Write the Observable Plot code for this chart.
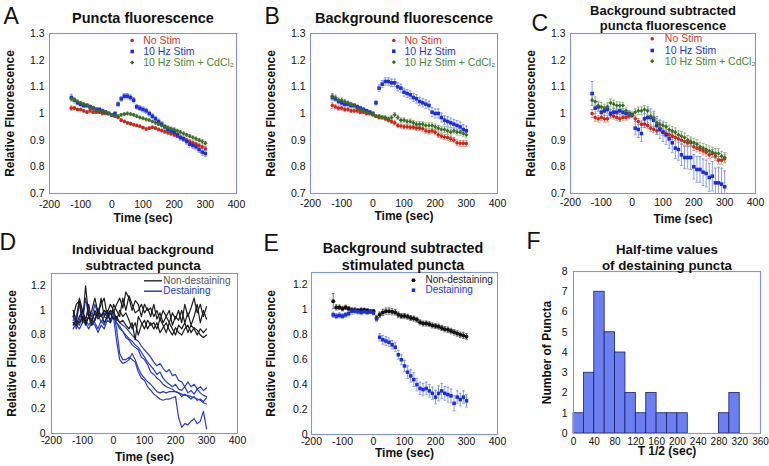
<!DOCTYPE html>
<html><head><meta charset="utf-8">
<script src="https://cdn.jsdelivr.net/npm/d3@7"></script>
<script src="https://cdn.jsdelivr.net/npm/@observablehq/plot@0.6"></script>
<style>
html,body{margin:0;padding:0;background:#fff;}
#wrap{position:relative;width:769px;height:466px;overflow:hidden;background:#fff;}
.panel{position:absolute;}
.panel svg{display:block;}
</style></head><body><div id="wrap"></div>
<script>
// ---------- shared ticks / times ----------
const t = [-130,-120,-110,-100,-90,-80,-70,-60,-50,-40,-30,-20,-10,0,10,20,30,40,50,60,70,80,90,100,110,120,130,140,150,160,170,180,190,200,210,220,230,240,250,260,270,280,290,300];
const timeTicks = [-200,-100,0,100,200,300,400];
const fluorTicksABC = [0.7,0.8,0.9,1,1.1,1.2,1.3];
const fluorTicksDE = [0,0.2,0.4,0.6,0.8,1,1.2];
const seriesNames = ["No Stim", "10 Hz Stim", "10 Hz Stim + CdCl\u2082"];
const groupNames = ["Non-destaining", "Destaining"];

// ---------- A: puncta fluorescence ----------
const aNoStim = [1.02,1.02,1.015,1.015,1.01,1.005,1.01,1.005,1.005,1.005,1.0,1.0,1.0,0.995, 0.99,0.985,0.975,0.97,0.965,0.962,0.958,0.955,0.952,0.947, 0.942,0.945,0.948,0.945,0.94,0.936,0.932,0.928,0.924,0.92, 0.915,0.91,0.905,0.9,0.895,0.89,0.885,0.88,0.875,0.868];
const aNoStimErr = [0.008,0.006,0.005,0.005,0.005,0.005,0.005,0.005,0.005,0.005,0.005,0.004,0.004,0.004, 0.004,0.005,0.005,0.005,0.005,0.005,0.005,0.005,0.005,0.005, 0.005,0.005,0.005,0.005,0.006,0.006,0.006,0.006,0.006,0.006, 0.006,0.006,0.006,0.007,0.007,0.007,0.007,0.007,0.007,0.008];
const aStim = [1.06,1.05,1.04,1.035,1.03,1.03,1.025,1.02,1.015,1.015,1.01,1.005,1.0,0.995, 1.0,1.035,1.055,1.065,1.065,1.06,1.05,1.025,1.02,1.015, 1.01,1.0,0.99,0.98,0.97,0.96,0.95,0.94,0.935,0.93, 0.92,0.91,0.905,0.895,0.885,0.88,0.875,0.865,0.855,0.85];
const aStimErr = [0.012,0.01,0.008,0.008,0.008,0.007,0.007,0.007,0.007,0.006,0.006,0.006,0.005,0.005, 0.006,0.008,0.009,0.01,0.01,0.01,0.01,0.009,0.009,0.009, 0.009,0.009,0.009,0.009,0.009,0.009,0.009,0.009,0.01,0.01, 0.01,0.01,0.01,0.01,0.011,0.011,0.011,0.011,0.012,0.012];
const aCd = [1.055,1.05,1.045,1.04,1.035,1.03,1.025,1.02,1.015,1.01,1.01,1.005,1.0,0.995, 0.99,0.99,0.995,0.998,1.0,0.998,0.995,0.99,0.985,0.982, 0.978,0.975,0.97,0.965,0.96,0.955,0.95,0.947,0.943,0.94, 0.935,0.93,0.925,0.92,0.915,0.91,0.905,0.9,0.895,0.888];
const aCdErr = [0.008,0.006,0.006,0.005,0.005,0.005,0.005,0.005,0.005,0.005,0.004,0.004,0.004,0.004, 0.004,0.004,0.005,0.005,0.005,0.005,0.005,0.005,0.005,0.005, 0.005,0.005,0.005,0.005,0.005,0.005,0.005,0.006,0.006,0.006, 0.006,0.006,0.006,0.006,0.006,0.006,0.007,0.007,0.007,0.007];

// ---------- B: background fluorescence ----------
const bNoStim = [1.03,1.025,1.02,1.02,1.015,1.015,1.01,1.01,1.01,1.005,1.005,1.0,1.0,0.995, 0.99,0.985,0.985,0.98,0.975,0.97,0.965,0.955,0.953,0.95, 0.95,0.948,0.948,0.945,0.945,0.943,0.935,0.932,0.935,0.93, 0.92,0.915,0.912,0.91,0.905,0.9,0.89,0.888,0.888,0.887];
const bNoStimErr = [0.01,0.008,0.008,0.008,0.008,0.007,0.007,0.007,0.007,0.006,0.006,0.005,0.005,0.005, 0.005,0.006,0.006,0.007,0.007,0.007,0.008,0.008,0.008,0.008, 0.008,0.008,0.008,0.009,0.009,0.009,0.009,0.009,0.009,0.01, 0.01,0.01,0.01,0.01,0.01,0.01,0.011,0.011,0.011,0.011];
const bStim = [1.06,1.055,1.045,1.04,1.035,1.035,1.03,1.03,1.025,1.02,1.015,1.01,1.005,1.0, 1.04,1.095,1.11,1.12,1.12,1.115,1.115,1.1,1.095,1.08, 1.075,1.07,1.06,1.055,1.045,1.04,1.035,1.03,1.005,1.0, 1.0,0.985,0.975,0.97,0.965,0.96,0.955,0.95,0.94,0.935];
const bStimErr = [0.01,0.009,0.009,0.008,0.008,0.008,0.008,0.007,0.007,0.007,0.006,0.006,0.005,0.005, 0.008,0.012,0.013,0.014,0.014,0.014,0.014,0.015,0.015,0.015, 0.015,0.015,0.015,0.016,0.016,0.016,0.016,0.016,0.017,0.017, 0.017,0.017,0.017,0.018,0.018,0.018,0.018,0.018,0.018,0.018];
const bCd = [1.065,1.06,1.05,1.05,1.045,1.04,1.035,1.03,1.02,1.015,1.01,1.005,1.0,1.0, 0.99,0.99,0.985,0.985,0.98,0.985,0.995,0.985,0.975,0.975, 0.97,0.97,0.965,0.96,0.96,0.96,0.955,0.955,0.955,0.95, 0.945,0.94,0.94,0.935,0.93,0.935,0.93,0.93,0.925,0.92];
const bCdErr = [0.01,0.009,0.008,0.008,0.008,0.007,0.007,0.007,0.006,0.006,0.006,0.005,0.005,0.005, 0.005,0.006,0.007,0.007,0.007,0.008,0.008,0.008,0.008,0.008, 0.008,0.009,0.009,0.009,0.009,0.009,0.01,0.01,0.01,0.01, 0.01,0.01,0.011,0.011,0.011,0.011,0.011,0.012,0.012,0.012];

// ---------- C: background subtracted puncta ----------
const cNoStim = [1.0,0.985,0.98,0.985,0.98,0.98,0.995,0.99,0.985,0.98,0.985,0.985,0.99,0.995, 0.98,0.97,0.96,0.96,0.955,0.945,0.94,0.935,0.945,0.93, 0.925,0.92,0.915,0.91,0.905,0.9,0.895,0.89,0.89,0.875, 0.87,0.865,0.86,0.855,0.845,0.85,0.84,0.825,0.825,0.83];
const cNoStimErr = [0.015,0.014,0.012,0.012,0.012,0.012,0.012,0.011,0.011,0.01,0.01,0.01,0.008,0.008, 0.01,0.011,0.012,0.012,0.012,0.012,0.012,0.013,0.013,0.013, 0.013,0.013,0.013,0.013,0.013,0.014,0.014,0.014,0.014,0.014, 0.014,0.014,0.015,0.015,0.015,0.015,0.015,0.015,0.015,0.015];
const cStim = [1.075,1.02,1.025,1.005,1.01,1.015,1.0,1.005,1.005,1.01,1.005,1.0,1.0,0.995, 0.945,0.94,0.925,0.98,0.985,0.985,0.975,0.955,0.94,0.93, 0.92,0.905,0.89,0.87,0.865,0.845,0.835,0.835,0.835,0.8, 0.79,0.79,0.78,0.775,0.76,0.765,0.74,0.74,0.735,0.725];
const cStimErr = [0.045,0.02,0.018,0.017,0.016,0.016,0.016,0.015,0.015,0.014,0.013,0.012,0.01,0.01, 0.025,0.03,0.03,0.032,0.032,0.032,0.033,0.034,0.034,0.035, 0.036,0.036,0.037,0.038,0.04,0.04,0.042,0.043,0.045,0.046, 0.048,0.048,0.05,0.05,0.052,0.055,0.055,0.058,0.06,0.06];
const cCd = [1.05,1.045,1.03,1.025,1.02,1.025,1.04,1.035,1.03,1.03,1.03,1.01,1.0,0.995, 1.005,1.01,1.01,1.015,1.01,0.99,0.985,0.965,0.96,0.955, 0.95,0.94,0.935,0.93,0.92,0.915,0.91,0.9,0.895,0.89, 0.885,0.875,0.87,0.865,0.86,0.855,0.85,0.85,0.84,0.835];
const cCdErr = [0.018,0.017,0.016,0.016,0.015,0.015,0.015,0.015,0.014,0.013,0.012,0.011,0.01,0.01, 0.012,0.014,0.015,0.015,0.015,0.015,0.016,0.016,0.016,0.016, 0.016,0.016,0.016,0.016,0.016,0.017,0.017,0.017,0.017,0.017, 0.017,0.017,0.018,0.018,0.018,0.018,0.018,0.018,0.018,0.018];

// ---------- D: individual puncta traces ----------
const dNon1 = [0.95,1.05,1.08,0.9,1.2,0.95,1.0,1.1,0.98,1.05,1.1,0.95,1.0,0.98, 1.05,1.1,1.02,1.15,1.1,1.0,1.08,1.05,0.95,1.05, 1.0,1.02,0.95,1.0,0.92,1.0,0.95,0.9,0.98,0.93, 1.0,0.9,1.05,0.95,1.02,1.1,0.98,1.05,0.95,1.03];
const dNon2 = [1.0,0.9,1.1,1.0,0.92,1.05,0.9,1.0,0.95,1.1,0.95,1.0,0.9,1.05, 1.0,0.95,1.1,1.0,1.12,1.05,0.98,1.0,1.05,0.98, 1.02,0.95,1.05,0.93,0.98,0.9,0.95,1.0,0.88,0.95, 0.92,1.0,0.9,0.98,0.88,0.95,1.05,0.9,1.0,0.93];
const dNon3 = [0.88,0.92,0.9,0.95,0.88,0.95,0.92,0.98,0.93,0.97,0.9,0.95,0.98,0.93, 0.95,0.9,0.92,0.88,0.85,0.9,0.76,0.95,0.9,0.85, 0.92,0.88,0.9,0.85,0.93,0.88,0.82,0.9,0.85,0.8, 0.88,0.85,0.9,0.82,0.88,0.85,0.8,0.85,0.82,0.85];
const dNon4 = [0.9,0.88,0.95,1.0,0.9,0.95,0.88,0.92,1.0,0.95,1.0,0.98,1.05,1.0, 0.92,1.0,0.95,0.98,0.92,0.85,0.9,0.8,0.88,0.92, 0.85,0.9,0.85,0.9,0.82,0.86,0.9,0.84,0.8,0.86, 0.82,0.8,0.85,0.88,0.82,0.86,0.84,0.8,0.78,0.8];
const dDes1 = [0.95,0.85,0.92,1.0,0.9,0.95,0.88,0.92,0.98,0.9,0.95,0.93,0.97,0.98, 0.85,0.65,0.6,0.6,0.62,0.6,0.58,0.5,0.45,0.43, 0.38,0.35,0.32,0.3,0.28,0.27,0.28,0.28,0.29,0.3, 0.13,0.05,0.08,0.07,0.1,0.12,0.08,0.1,0.18,0.04];
const dDes2 = [0.9,0.88,0.85,0.9,0.92,0.88,0.93,0.9,0.85,0.92,0.88,0.95,0.93,0.95, 0.75,0.6,0.57,0.58,0.6,0.65,0.6,0.53,0.48,0.45, 0.42,0.4,0.37,0.34,0.33,0.34,0.33,0.34,0.34,0.34, 0.33,0.32,0.31,0.31,0.3,0.29,0.28,0.27,0.25,0.24];
const dDes3 = [1.0,0.92,1.05,0.9,1.1,0.95,0.98,0.92,1.02,0.95,1.0,0.97,1.0,0.97, 0.93,0.9,0.88,0.86,0.83,0.8,0.77,0.75,0.71,0.68, 0.65,0.62,0.58,0.55,0.57,0.53,0.5,0.52,0.47,0.48, 0.43,0.42,0.38,0.42,0.38,0.4,0.36,0.38,0.35,0.37];
const dDes4 = [0.85,0.9,0.88,0.95,0.9,0.85,0.9,0.88,0.82,0.88,0.85,0.92,0.9,0.95, 0.9,0.87,0.83,0.8,0.77,0.75,0.72,0.7,0.66,0.62, 0.58,0.55,0.52,0.48,0.5,0.45,0.42,0.4,0.38,0.4, 0.36,0.35,0.38,0.33,0.35,0.32,0.36,0.33,0.31,0.3];
const dDes5 = [0.92,0.95,1.08,0.98,0.93,1.0,0.95,1.05,0.97,0.95,0.98,0.95,0.98,0.96, 0.9,0.85,0.83,0.78,0.76,0.72,0.7,0.68,0.62,0.6, 0.56,0.5,0.48,0.45,0.43,0.4,0.38,0.37,0.36,0.34, 0.33,0.3,0.32,0.3,0.28,0.3,0.27,0.28,0.26,0.29];

// ---------- E: stimulated puncta averages ----------
const eNon = [1.07,1.02,1.02,1.01,1.02,1.01,1.0,1.0,0.995,1.0,1.0,0.995,0.99,0.99, 0.935,0.96,0.98,0.99,0.99,0.985,0.98,0.96,0.95,0.95, 0.945,0.935,0.93,0.92,0.9,0.89,0.89,0.885,0.875,0.87, 0.865,0.855,0.845,0.84,0.83,0.82,0.81,0.8,0.795,0.785];
const eNonErr = [0.06,0.02,0.018,0.018,0.017,0.017,0.016,0.016,0.015,0.015,0.014,0.013,0.012,0.012, 0.02,0.022,0.025,0.025,0.025,0.025,0.022,0.022,0.02,0.02, 0.02,0.02,0.02,0.02,0.02,0.02,0.02,0.02,0.02,0.02, 0.02,0.02,0.022,0.022,0.022,0.022,0.022,0.022,0.025,0.025];
const eDes = [0.96,0.95,0.955,0.95,0.96,0.97,0.99,0.99,0.985,0.98,0.985,0.98,0.985,0.975, 0.93,0.78,0.76,0.75,0.74,0.72,0.7,0.64,0.6,0.55, 0.5,0.47,0.44,0.4,0.37,0.36,0.37,0.35,0.33,0.3, 0.33,0.35,0.33,0.32,0.31,0.25,0.3,0.28,0.3,0.27];
const eDesErr = [0.02,0.02,0.02,0.02,0.018,0.018,0.025,0.02,0.018,0.018,0.015,0.015,0.015,0.015, 0.025,0.03,0.035,0.035,0.035,0.035,0.035,0.035,0.04,0.045, 0.05,0.05,0.055,0.05,0.05,0.05,0.05,0.05,0.05,0.055, 0.06,0.06,0.055,0.06,0.055,0.06,0.05,0.05,0.05,0.05];

// ---------- F: half-time histogram ----------
const fBinStart = [0,20,40,60,80,100,120,140,160,180,200,220,240,260,280,300];
const fCount    = [1,3,7,5,4,2,1,2,1,1,1,0,0,0,1,2];
const fTicksX = [0,40,80,120,160,200,240,280,320,360];
const fTicksY = [0,1,2,3,4,5,6,7,8];

// ---------- style ----------
const FONT = '"Liberation Sans", Arial, Helvetica, sans-serif';
const FRAME = "#8193e3";
const RED = "#c8281c", RED_E = "#e07a6a", RED_T = "#d23c28";
const BLUE = "#1c2fd6", BLUE_E = "#7187f0", BLUE_T = "#2338e0";
const GREEN = "#3a6e22", GREEN_E = "#86b070", GREEN_T = "#4b8a34";
const BLACK = "#111111", BLACK_E = "#555555";
const LINE_BLUE = "#2a3cd0", LINE_BLACK = "#1c1c1c";

const cap = {draw(ctx, size) { const r = Math.sqrt(size / Math.PI); ctx.moveTo(-r, 0); ctx.lineTo(r, 0); }};
const rows = (v, e) => t.map((x, i) => ({t: x, v: v[i], e: e ? e[i] : 0}));
const txt = (s, o) => Plot.text([s], {text: d => d, fontFamily: FONT, ...o});
const fmt = d => String(d);

function errMarks(v, e, color, clip) {
  const d = rows(v, e);
  return [
    Plot.ruleX(d, {x: "t", y1: r => r.v - r.e, y2: r => r.v + r.e, stroke: color, strokeWidth: 0.8, clip}),
    Plot.dot(d, {x: "t", y: r => r.v + r.e, symbol: cap, r: 1.4, stroke: color, strokeWidth: 0.8, fill: "none", clip}),
    Plot.dot(d, {x: "t", y: r => r.v - r.e, symbol: cap, r: 1.4, stroke: color, strokeWidth: 0.8, fill: "none", clip})
  ];
}
function pointMarks(v, color, symbol, r) {
  return Plot.dot(rows(v), {x: "t", y: "v", symbol, r, fill: color, stroke: "none"});
}
function legendDot(dx, dy, color, symbol, r) {
  return Plot.dot([0], {frameAnchor: "top-left", dx, dy, symbol, r, fill: color, stroke: "none"});
}
function legendLine(dx, dy, color) {
  return Plot.dot([0], {frameAnchor: "top-left", dx, dy, symbol: cap, r: 9, stroke: color, strokeWidth: 1.5, fill: "none"});
}
function legendText(s, dx, dy, color, size) {
  return txt(s, {frameAnchor: "top-left", dx, dy, textAnchor: "start", lineAnchor: "middle", fill: color, fontSize: size || 10.5});
}

const wrap = document.getElementById("wrap");
function panel(cfg) {
  const {left, top, width, height, frame: [fx0, fy0, fx1, fy1]} = cfg;
  const svg = Plot.plot({
    width, height,
    marginLeft: fx0 - left, marginTop: fy0 - top,
    marginRight: left + width - fx1, marginBottom: top + height - fy1,
    x: {domain: cfg.xDomain},
    y: {domain: cfg.yDomain},
    style: {fontFamily: FONT, fontSize: "10.5px", color: "#111", background: "transparent"},
    marks: [
      ...cfg.marks,
      Plot.frame({stroke: FRAME, strokeWidth: 1.1}),
      Plot.axisX(cfg.xTicks, {tickSize: 0, tickPadding: cfg.padX, tickFormat: fmt, label: null, fontSize: cfg.xTickSize || 10.5}),
      Plot.axisY(cfg.yTicks, {tickSize: 0, tickPadding: cfg.padY, tickFormat: fmt, label: null}),
      txt(cfg.letter, {frameAnchor: "top-left", textAnchor: "start", lineAnchor: "bottom", dx: cfg.letterD[0], dy: cfg.letterD[1], fontSize: 23}),
      txt(cfg.title, {frameAnchor: "top", textAnchor: "middle", lineAnchor: "bottom", dx: cfg.titleD[0], dy: cfg.titleD[1], fontSize: cfg.titleSize, fontWeight: "bold", lineHeight: cfg.titleLH || 1.15}),
      txt(cfg.ylabel, {frameAnchor: "left", textAnchor: "middle", lineAnchor: "middle", rotate: -90, dx: cfg.ylabelDx, fontSize: 12, fontWeight: "bold"}),
      txt(cfg.xlabel, {frameAnchor: "bottom", textAnchor: "middle", lineAnchor: "bottom", dx: cfg.xlabelD[0], dy: cfg.xlabelD[1], fontSize: 12, fontWeight: "bold"}),
      ...(cfg.legend || [])
    ]
  });
  const div = document.createElement("div");
  div.className = "panel";
  div.style.left = left + "px";
  div.style.top = top + "px";
  div.appendChild(svg);
  wrap.appendChild(div);
}

function triple(nos, nosE, st, stE, cd, cdE, clipBlue) {
  return [
    ...errMarks(nos, nosE, RED_E, false),
    ...errMarks(st, stE, BLUE_E, clipBlue),
    ...errMarks(cd, cdE, GREEN_E, false),
    pointMarks(nos, RED, "circle", 1.8),
    pointMarks(st, BLUE, "square", 2.0),
    pointMarks(cd, GREEN, "diamond2", 1.9)
  ];
}
function tripleLegend(mx, tx, rowsY) {
  return [
    legendDot(mx, rowsY[0], RED, "circle", 1.8),
    legendDot(mx, rowsY[1], BLUE, "square", 2.0),
    legendDot(mx, rowsY[2], GREEN, "diamond2", 1.9),
    legendText(seriesNames[0], tx, rowsY[0], RED_T),
    legendText(seriesNames[1], tx, rowsY[1], BLUE_T),
    legendText(seriesNames[2], tx, rowsY[2], GREEN_T)
  ];
}

// A
panel({left: 0, top: 0, width: 256, height: 224, frame: [49, 33, 236, 193],
  xDomain: [-200, 400], yDomain: [0.7, 1.3], xTicks: timeTicks, yTicks: fluorTicksABC, padX: 7, padY: 5,
  letter: "A", letterD: [-46, -10], title: "Puncta fluorescence", titleD: [0, -11], titleSize: 14.5,
  ylabel: "Relative Fluorescence", ylabelDx: -39, xlabel: "Time (sec)", xlabelD: [0, 28],
  marks: triple(aNoStim, aNoStimErr, aStim, aStimErr, aCd, aCdErr, false),
  legend: tripleLegend(82.7, 93.7, [7, 18, 29])
});
// B
panel({left: 256, top: 0, width: 256, height: 224, frame: [310, 33, 497, 193],
  xDomain: [-200, 400], yDomain: [0.7, 1.3], xTicks: timeTicks, yTicks: fluorTicksABC, padX: 6, padY: 5,
  letter: "B", letterD: [-46, -10], title: "Background fluorescence", titleD: [0, -11], titleSize: 14.5,
  ylabel: "Relative Fluorescence", ylabelDx: -39, xlabel: "Time (sec)", xlabelD: [0, 26],
  marks: triple(bNoStim, bNoStimErr, bStim, bStimErr, bCd, bCdErr, false),
  legend: tripleLegend(83.3, 94, [7, 17.7, 28.7])
});
// C
panel({left: 512, top: 0, width: 257, height: 224, frame: [570, 33, 755, 193],
  xDomain: [-200, 400], yDomain: [0.7, 1.3], xTicks: timeTicks, yTicks: fluorTicksABC, padX: 5, padY: 5,
  letter: "C", letterD: [-39, -3], title: "Background subtracted\npuncta fluorescence", titleD: [0, -3.5], titleSize: 13, titleLH: 1.19,
  ylabel: "Relative Fluorescence", ylabelDx: -39, xlabel: "Time (sec)", xlabelD: [20, 29],
  marks: triple(cNoStim, cNoStimErr, cStim, cStimErr, cCd, cCdErr, true),
  legend: tripleLegend(81.7, 94.3, [5.3, 17, 27.7])
});
// D
const dLine = (v, color) => Plot.line(rows(v), {x: "t", y: "v", stroke: color, strokeWidth: 1.2});
panel({left: 0, top: 224, width: 256, height: 242, frame: [51, 273, 237, 433],
  xDomain: [-200, 400], yDomain: [0, 1.3], xTicks: timeTicks, yTicks: fluorTicksDE, padX: 3, padY: 6,
  letter: "D", letterD: [-52, -24], title: "Individual background\nsubtracted puncta", titleD: [-1.5, -4], titleSize: 13.3, titleLH: 1.2,
  ylabel: "Relative Fluorescence", ylabelDx: -39, xlabel: "Time (sec)", xlabelD: [0, 27],
  marks: [
    dLine(dDes1, LINE_BLUE), dLine(dDes2, LINE_BLUE), dLine(dDes3, LINE_BLUE), dLine(dDes4, LINE_BLUE), dLine(dDes5, LINE_BLUE),
    dLine(dNon1, LINE_BLACK), dLine(dNon2, LINE_BLACK), dLine(dNon3, LINE_BLACK), dLine(dNon4, LINE_BLACK)
  ],
  legend: [
    legendLine(101.5, 7.3, "#333"), legendLine(101.5, 17.7, LINE_BLUE),
    legendText(groupNames[0], 111.7, 7.3, "#555", 10), legendText(groupNames[1], 111.7, 17.7, BLUE_T, 10)
  ]
});
// E
panel({left: 256, top: 224, width: 256, height: 242, frame: [311, 272, 497, 434],
  xDomain: [-200, 400], yDomain: [0, 1.3], xTicks: timeTicks, yTicks: fluorTicksDE, padX: 3, padY: 4,
  letter: "E", letterD: [-48, -21.3], title: "Background subtracted\nstimulated puncta", titleD: [-1.5, -3], titleSize: 14.3, titleLH: 1.12,
  ylabel: "Relative Fluorescence", ylabelDx: -40, xlabel: "Time (sec)", xlabelD: [0, 22.5],
  marks: [
    ...errMarks(eNon, eNonErr, BLACK_E, false),
    ...errMarks(eDes, eDesErr, BLUE_E, false),
    pointMarks(eNon, BLACK, "circle", 2.0),
    pointMarks(eDes, BLUE, "square", 2.0)
  ],
  legend: [
    legendDot(102, 7.7, BLACK, "circle", 2.0), legendDot(102, 17.7, BLUE, "square", 2.0),
    legendText(groupNames[0], 114, 7.7, "#222", 10), legendText(groupNames[1], 114, 17.7, BLUE_T, 10)
  ]
});
// F
const fRows = fBinStart.map((s, i) => ({start: s, count: fCount[i]}));
panel({left: 512, top: 224, width: 257, height: 242, frame: [573, 271, 760, 433],
  xDomain: [0, 360], yDomain: [0, 8], xTicks: fTicksX, yTicks: fTicksY, padX: 4, padY: 6, xTickSize: 10,
  letter: "F", letterD: [-47, -23], title: "Half-time values\nof destaining puncta", titleD: [0, -2], titleSize: 13.3, titleLH: 1.2,
  ylabel: "Number of Puncta", ylabelDx: -26, xlabel: "T 1/2 (sec)", xlabelD: [0, 21.5],
  marks: [
    Plot.rectY(fRows, {x: "start", y: "count", interval: 20, inset: 0, fill: "#6b7ff0", stroke: "#1c1f66", strokeWidth: 0.8, filter: d => d.count > 0})
  ]
});
</script>
</body></html>
